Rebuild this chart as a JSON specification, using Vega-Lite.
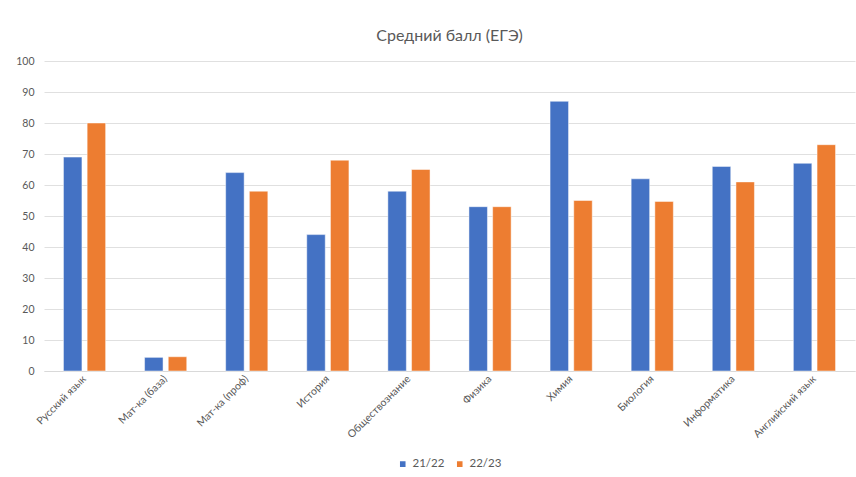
{
  "$schema": "https://vega.github.io/schema/vega-lite/v6.json",
  "autosize": {"type": "none"},
  "width": 811,
  "height": 310,
  "padding": {"left": 44, "top": 61, "right": 1, "bottom": 106},
  "background": "white",
  "config": {
    "font": "Lato",
    "view": {"stroke": null}
  },
  "title": {
    "text": "Средний балл (ЕГЭ)",
    "fontSize": 16,
    "fontWeight": "normal",
    "color": "#595959",
    "anchor": "middle",
    "offset": 12
  },
  "data": {
    "values": [
      {"subject": "Русский язык", "year": "21/22", "score": 69},
      {"subject": "Русский язык", "year": "22/23", "score": 80},
      {"subject": "Мат-ка (база)", "year": "21/22", "score": 4.4},
      {"subject": "Мат-ка (база)", "year": "22/23", "score": 4.6},
      {"subject": "Мат-ка (проф)", "year": "21/22", "score": 64},
      {"subject": "Мат-ка (проф)", "year": "22/23", "score": 58},
      {"subject": "История", "year": "21/22", "score": 44},
      {"subject": "История", "year": "22/23", "score": 68},
      {"subject": "Обществознание", "year": "21/22", "score": 58},
      {"subject": "Обществознание", "year": "22/23", "score": 65},
      {"subject": "Физика", "year": "21/22", "score": 53},
      {"subject": "Физика", "year": "22/23", "score": 53},
      {"subject": "Химия", "year": "21/22", "score": 87},
      {"subject": "Химия", "year": "22/23", "score": 55},
      {"subject": "Биология", "year": "21/22", "score": 62},
      {"subject": "Биология", "year": "22/23", "score": 54.7},
      {"subject": "Информатика", "year": "21/22", "score": 66},
      {"subject": "Информатика", "year": "22/23", "score": 61},
      {"subject": "Английский язык", "year": "21/22", "score": 67},
      {"subject": "Английский язык", "year": "22/23", "score": 73}
    ]
  },
  "mark": {"type": "bar", "stroke": "white", "strokeWidth": 0.8, "strokeOpacity": 0.6},
  "encoding": {
    "x": {
      "field": "subject",
      "type": "nominal",
      "sort": null,
      "scale": {"paddingInner": 0.48, "paddingOuter": 0.24},
      "axis": {
        "title": null,
        "labelAngle": -45,
        "labelAlign": "right",
        "labelBaseline": "middle",
        "labelPadding": 6,
        "labelFontSize": 10.5,
        "labelColor": "#595959",
        "ticks": false,
        "domainColor": "#d9d9d9",
        "grid": false
      }
    },
    "xOffset": {
      "field": "year",
      "type": "nominal",
      "scale": {"paddingInner": 0.22}
    },
    "y": {
      "field": "score",
      "type": "quantitative",
      "scale": {"domain": [0, 100], "nice": false},
      "axis": {
        "title": null,
        "values": [0, 10, 20, 30, 40, 50, 60, 70, 80, 90, 100],
        "domain": false,
        "ticks": false,
        "labelPadding": 10,
        "labelFontSize": 10.5,
        "labelColor": "#595959",
        "gridColor": "#e0e0e0"
      }
    },
    "color": {
      "field": "year",
      "type": "nominal",
      "scale": {"domain": ["21/22", "22/23"], "range": ["#4472C4", "#ED7D31"]},
      "legend": {
        "title": null,
        "orient": "none",
        "direction": "horizontal",
        "legendX": 353,
        "legendY": 397,
        "symbolType": "square",
        "symbolSize": 50,
        "labelFontSize": 11.5,
        "labelColor": "#595959",
        "columnPadding": 8
      }
    }
  }
}
